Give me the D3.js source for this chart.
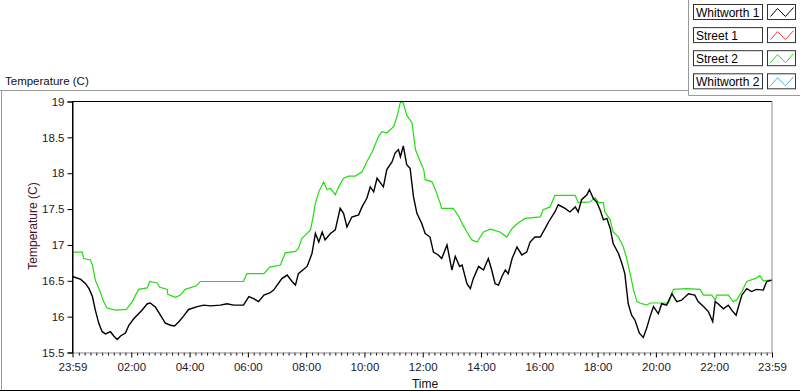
<!DOCTYPE html>
<html>
<head>
<meta charset="utf-8">
<script src="https://cdn.jsdelivr.net/npm/d3@7"></script>
<style>
  html, body { margin: 0; padding: 0; background: #ffffff; }
  svg { display: block; font-family: "Liberation Sans", Arial, sans-serif; }
</style>
</head>
<body>
<svg id="chart" width="800" height="392"></svg>
<script>
// ---------- data (minutes after midnight, temperature in C) ----------
const seriesNames = ["Whitworth 1", "Street 1", "Street 2", "Whitworth 2"];
const seriesColors = ["#000000", "#f03c3c", "#22dd11", "#38b4f0"];

const whitworth1Time = [-1,16,26,33,40,46,53,60,67,77,84,91,98,108,115,125,132,142,153,159,170,180,190,201,209,218,228,238,256,269,283,303,317,331,351,362,372,382,393,405,413,430,441,451,458,464,482,492,499,506,513,519,530,540,550,557,564,574,588,595,605,612,619,626,639,646,657,663,670,674,680,687,694,701,708,718,725,735,742,752,759,770,780,787,796,801,811,818,824,835,845,855,862,869,876,883,890,896,904,914,924,934,941,951,962,972,979,992,999,1013,1023,1034,1040,1047,1058,1063,1071,1078,1085,1092,1099,1106,1112,1123,1130,1136,1143,1150,1157,1166,1174,1181,1188,1195,1205,1212,1222,1233,1243,1253,1267,1280,1287,1298,1308,1317,1322,1328,1339,1349,1356,1365,1370,1377,1387,1397,1407,1421,1428,1439];
const whitworth1Temp = [16.56,16.52,16.46,16.39,16.28,16.09,15.91,15.79,15.76,15.79,15.73,15.68,15.73,15.77,15.88,15.97,16.02,16.09,16.18,16.19,16.13,16.02,15.91,15.88,15.87,15.93,16.01,16.10,16.14,16.16,16.15,16.16,16.18,16.16,16.16,16.28,16.25,16.21,16.30,16.33,16.37,16.53,16.58,16.49,16.44,16.60,16.70,16.88,17.16,17.04,17.18,17.07,17.16,17.21,17.51,17.44,17.25,17.39,17.42,17.53,17.65,17.81,17.74,17.93,17.81,18.05,18.16,18.28,18.33,18.23,18.38,18.12,18.07,17.67,17.44,17.30,17.16,17.11,16.90,16.86,16.81,17.00,16.65,16.84,16.70,16.72,16.46,16.39,16.53,16.70,16.65,16.81,16.65,16.46,16.44,16.56,16.65,16.60,16.81,16.97,16.86,16.90,17.04,17.11,17.11,17.23,17.32,17.46,17.56,17.51,17.46,17.53,17.46,17.63,17.70,17.77,17.65,17.60,17.49,17.35,17.37,17.23,17.02,16.88,16.74,16.60,16.18,16.02,15.95,15.77,15.71,15.84,16.00,16.14,16.04,16.18,16.16,16.32,16.21,16.23,16.32,16.30,16.21,16.14,16.07,15.93,16.21,16.18,16.11,16.16,16.09,16.02,16.14,16.30,16.39,16.35,16.38,16.37,16.49,16.51];

const street1Time = [];
const street1Temp = [];

const street2Time = [-1,19,22,36,40,46,57,63,70,88,110,122,135,153,158,173,179,194,195,211,221,231,254,262,351,358,393,405,427,437,458,464,471,489,495,499,506,516,523,530,540,547,557,567,581,595,605,616,629,636,646,660,667,674,680,687,698,705,715,722,725,739,746,756,759,783,794,801,811,821,832,845,859,879,893,904,917,931,962,968,982,992,1034,1040,1064,1075,1082,1092,1095,1106,1112,1123,1133,1140,1147,1154,1161,1167,1181,1188,1226,1236,1263,1291,1298,1315,1322,1325,1349,1359,1366,1377,1387,1404,1414,1421,1435,1439];
const street2Temp = [16.90,16.90,16.81,16.79,16.72,16.51,16.33,16.21,16.12,16.09,16.10,16.21,16.38,16.40,16.49,16.47,16.41,16.38,16.31,16.27,16.30,16.38,16.43,16.49,16.49,16.60,16.60,16.69,16.72,16.89,16.91,16.95,17.09,17.21,17.42,17.58,17.74,17.88,17.77,17.79,17.70,17.81,17.93,17.96,17.96,18.02,18.16,18.30,18.51,18.58,18.56,18.65,18.79,18.99,18.98,18.81,18.70,18.33,18.16,18.05,17.91,17.88,17.77,17.58,17.51,17.51,17.40,17.30,17.18,17.07,17.04,17.18,17.22,17.18,17.11,17.23,17.31,17.37,17.39,17.49,17.53,17.69,17.69,17.59,17.60,17.66,17.59,17.59,17.46,17.35,17.18,17.11,16.97,16.81,16.60,16.37,16.21,16.19,16.16,16.19,16.19,16.38,16.39,16.38,16.30,16.30,16.23,16.30,16.30,16.21,16.23,16.35,16.49,16.53,16.57,16.50,16.51,16.51];

const whitworth2Time = [];
const whitworth2Temp = [];

const yTicks = [15.5, 16, 16.5, 17, 17.5, 18, 18.5, 19];
const yTickLabels = ["15.5", "16", "16.5", "17", "17.5", "18", "18.5", "19"];
const xTicks = [-1, 120, 240, 360, 480, 600, 720, 840, 960, 1080, 1200, 1320, 1439];
const xTickLabels = ["23:59", "02:00", "04:00", "06:00", "08:00", "10:00", "12:00", "14:00", "16:00", "18:00", "20:00", "22:00", "23:59"];

// ---------- drawing ----------
const svg = d3.select("#chart");
svg.append("rect").attr("width", 800).attr("height", 392).attr("fill", "#ffffff");

const pLeft = 72.5, pRight = 772, pTop = 101.5, pBottom = 352.5;
const x = d3.scaleLinear().domain([-1, 1439]).range([pLeft, pRight]);
const y = d3.scaleLinear().domain([15.5, 19]).range([pBottom, pTop]);

// outer frame lines
const frame = svg.append("g").attr("fill", "none");
frame.append("line").attr("x1", 0).attr("x2", 688.5).attr("y1", 90.5).attr("y2", 90.5).attr("stroke", "#9a9a9a");
frame.append("line").attr("x1", 1.5).attr("x2", 1.5).attr("y1", 90.5).attr("y2", 391).attr("stroke", "#9a9a9a");
frame.append("line").attr("x1", 688.5).attr("x2", 688.5).attr("y1", 0).attr("y2", 95.5).attr("stroke", "#9a9a9a");
frame.append("line").attr("x1", 688.5).attr("x2", 800).attr("y1", 95.5).attr("y2", 95.5).attr("stroke", "#9a9a9a");
frame.append("line").attr("x1", 0).attr("x2", 800).attr("y1", 390.5).attr("y2", 390.5).attr("stroke", "#000000");

// plot area
svg.append("rect").attr("x", pLeft).attr("y", pTop).attr("width", pRight - pLeft).attr("height", pBottom - pTop).attr("fill", "#ffffff");

// series lines
const seriesData = [
  d3.zip(whitworth1Time, whitworth1Temp),
  d3.zip(street1Time, street1Temp),
  d3.zip(street2Time, street2Temp),
  d3.zip(whitworth2Time, whitworth2Temp)
];
const lineGen = d3.line().x(d => x(d[0])).y(d => y(d[1]));
const plotG = svg.append("g");
[2, 1, 3, 0].forEach(i => {
  if (!seriesData[i].length) return;
  plotG.append("path")
    .datum(seriesData[i])
    .attr("fill", "none")
    .attr("stroke", seriesColors[i])
    .attr("stroke-width", i === 0 ? 1.4 : 1.2)
    .attr("stroke-linejoin", "miter")
    .attr("d", lineGen);
});

// plot borders
svg.append("line").attr("x1", pLeft).attr("x2", pRight).attr("y1", pTop).attr("y2", pTop).attr("stroke", "#000");
svg.append("line").attr("x1", pRight).attr("x2", pRight).attr("y1", pTop).attr("y2", pBottom).attr("stroke", "#8c8c8c");

// y axis
const yAxis = d3.axisLeft(y).tickValues(yTicks).tickSize(5).tickPadding(3)
  .tickFormat((d, i) => yTickLabels[i]);
const yG = svg.append("g").attr("transform", `translate(${pLeft},0)`).call(yAxis);
yG.select(".domain").attr("stroke", "#000");
yG.selectAll(".tick line").attr("stroke", "#000");
yG.selectAll("text").attr("font-size", 11.5).attr("font-family", "Liberation Sans, Arial, sans-serif").attr("fill", "#1a1a2a");

// x axis - minor ticks
const minorTicks = d3.range(0, 1440, 12).filter(m => m % 120 !== 0);
const xMinor = d3.axisBottom(x).tickValues(minorTicks).tickSize(3).tickFormat("");
const xmG = svg.append("g").attr("transform", `translate(0,${pBottom})`).call(xMinor);
xmG.select(".domain").remove();
xmG.selectAll(".tick line").attr("stroke", "#000");

const xAxis = d3.axisBottom(x).tickValues(xTicks).tickSize(5).tickPadding(5)
  .tickFormat((d, i) => xTickLabels[i]);
const xG = svg.append("g").attr("transform", `translate(0,${pBottom})`).call(xAxis);
xG.select(".domain").attr("stroke", "#8c8c8c").attr("d", `M${pLeft},0.5H${pRight}`);
xG.selectAll(".tick line").attr("stroke", "#000");
xG.selectAll("text").attr("font-size", 11.5).attr("font-family", "Liberation Sans, Arial, sans-serif").attr("fill", "#1a1a2a");

// left axis line drawn over
svg.append("line").attr("x1", pLeft).attr("x2", pLeft).attr("y1", pTop).attr("y2", pBottom + 1).attr("stroke", "#000");

// titles
svg.append("text").attr("x", 5).attr("y", 85).attr("font-size", 11.5).attr("fill", "#111").text("Temperature (C)");
svg.append("text").attr("transform", "translate(37,226) rotate(-90)").attr("text-anchor", "middle")
  .attr("font-size", 12).attr("fill", "#4a1028").text("Temperature (C)");
svg.append("text").attr("x", 425).attr("y", 388).attr("text-anchor", "middle").attr("font-size", 12).attr("fill", "#111").text("Time");

// legend
const lg = svg.append("g");
seriesNames.forEach((name, i) => {
  const gy = 4.5 + i * 23.1;
  const g = lg.append("g").attr("transform", `translate(0,${gy})`);
  g.append("rect").attr("x", 693.5).attr("y", 0).attr("width", 69).attr("height", 15)
    .attr("fill", "#fff").attr("stroke", "#333");
  g.append("text").attr("x", 696).attr("y", 12).attr("font-size", 12).attr("fill", "#000").text(name);
  g.append("rect").attr("x", 767.5).attr("y", 0).attr("width", 28).attr("height", 15)
    .attr("fill", "#fff").attr("stroke", "#333");
  const ix = 767.5;
  const pts = [[ix + 3, 12], [ix + 10, 4], [ix + 18, 12], [ix + 26, 3]];
  g.append("path").attr("d", d3.line()(pts)).attr("fill", "none").attr("stroke", seriesColors[i]).attr("stroke-width", 1);
});
</script>
</body>
</html>
